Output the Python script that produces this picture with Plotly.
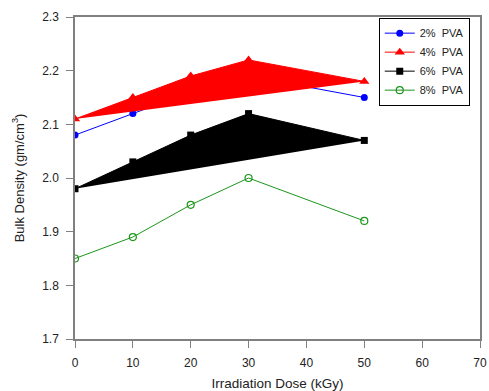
import plotly.graph_objects as go

dose = [0, 10, 20, 30, 50]
pva2 = [2.08, 2.12, 2.16, 2.19, 2.15]
pva4 = [2.11, 2.15, 2.19, 2.22, 2.18]
pva6 = [1.98, 2.03, 2.08, 2.12, 2.07]
pva8 = [1.85, 1.89, 1.95, 2.00, 1.92]

names = ["2%  PVA", "4%  PVA", "6%  PVA", "8%  PVA"]

fig = go.Figure()

# 2% PVA
fig.add_trace(go.Scatter(x=dose, y=pva2, mode="lines+markers", name=names[0],
                         line=dict(color="#0000ff", width=1),
                         marker=dict(symbol="circle", size=7, color="#0000ff")))
# 4% PVA (filled polygon)
fig.add_trace(go.Scatter(x=dose, y=pva4, mode="lines+markers", name=names[1],
                         fill="toself", fillcolor="#ff0000", showlegend=False,
                         line=dict(color="#ff0000", width=1),
                         marker=dict(symbol="triangle-up", size=9, color="#ff0000")))
fig.add_trace(go.Scatter(x=[None], y=[None], mode="lines+markers", name=names[1],
                         line=dict(color="#ff0000", width=1),
                         marker=dict(symbol="triangle-up", size=9, color="#ff0000")))
# 6% PVA (filled polygon)
fig.add_trace(go.Scatter(x=dose, y=pva6, mode="lines+markers", name=names[2],
                         fill="toself", fillcolor="#000000", showlegend=False,
                         line=dict(color="#000000", width=1),
                         marker=dict(symbol="square", size=7, color="#000000")))
fig.add_trace(go.Scatter(x=[None], y=[None], mode="lines+markers", name=names[2],
                         line=dict(color="#000000", width=1),
                         marker=dict(symbol="square", size=7, color="#000000")))
# 8% PVA
fig.add_trace(go.Scatter(x=dose, y=pva8, mode="lines+markers", name=names[3],
                         line=dict(color="#1a961a", width=1),
                         marker=dict(symbol="circle-open", size=7, color="#1a961a",
                                     line=dict(width=1.2))))

axis_common = dict(showline=True, linecolor="#808080", linewidth=1.5, mirror=True,
                   showgrid=False, zeroline=False, ticks="outside", ticklen=7,
                   tickcolor="#808080", tickwidth=1, ticklabelstandoff=5,
                   automargin=False,
                   tickfont=dict(family="Liberation Sans, Arial", size=12, color="#222"))

fig.update_layout(
    width=489, height=391,
    margin=dict(l=75, r=9, t=17, b=52),
    paper_bgcolor="white", plot_bgcolor="white",
    font=dict(family="Liberation Sans, Arial", size=11, color="#222"),
    xaxis=dict(range=[0, 70], dtick=10, tick0=0,
               title=dict(text="Irradiation Dose (kGy)", font=dict(size=13.5)),
               **axis_common),
    yaxis=dict(range=[1.7, 2.3], dtick=0.1, tick0=1.7, tickformat=".1f",
               title=dict(text="Bulk Density (gm/cm<sup>3</sup>)", font=dict(size=13)),
               **axis_common),
    legend=dict(x=0.75, y=0.998, xanchor="left", yanchor="top",
                bordercolor="#000000", borderwidth=1, bgcolor="white",
                font=dict(size=11), itemwidth=30, tracegroupgap=0),
)

fig.write_html("out.html")
